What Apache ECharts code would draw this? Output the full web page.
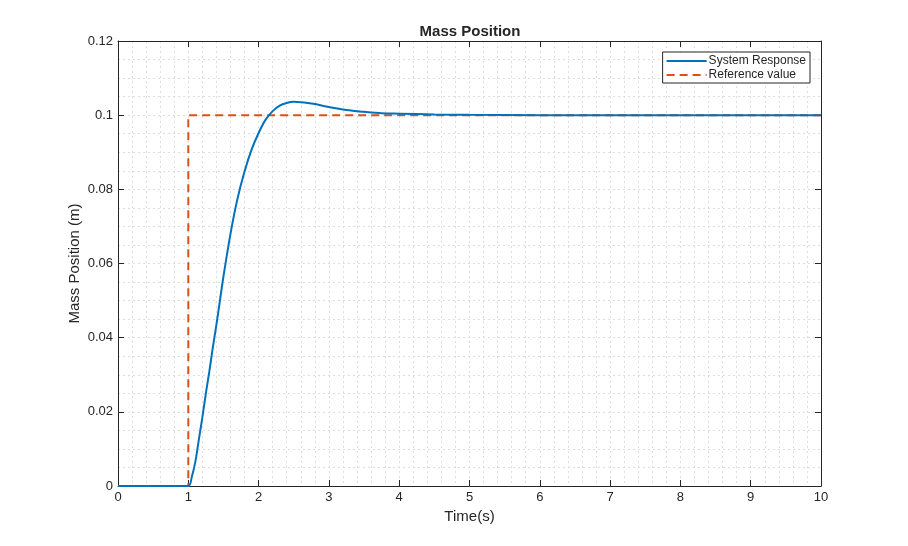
<!DOCTYPE html>
<html lang="en">
<head>
    <meta charset="UTF-8">
    <title>Mass Position</title>
    <style>
        html, body {margin: 0; padding: 0; background: #fff;}
        #chart {width: 908px; height: 546px;}
    </style>
</head>
<body>
<div id="chart"></div>
<script src="https://cdn.jsdelivr.net/npm/echarts@6/dist/echarts.min.js"></script>
<script type="text/javascript">
    // response: time (s) and position (m)
    var respTime = [0, 1, 1.05, 1.1, 1.15, 1.2, 1.25, 1.3, 1.35, 1.4, 1.45, 1.5, 1.6, 1.7, 1.8, 1.9,
        2.0, 2.1, 2.2, 2.3, 2.4, 2.5, 2.6, 2.7, 2.8, 3.0, 3.25, 3.5, 3.75, 4.0, 4.5, 5, 6, 7, 8, 10];
    var respValue = [0, 0, 0.0025, 0.0065, 0.0125, 0.0185, 0.025, 0.031, 0.0375, 0.0435, 0.050, 0.0565,
        0.068, 0.0775, 0.0848, 0.0907, 0.0952, 0.0988, 0.1011, 0.1026, 0.1033, 0.1036, 0.1035, 0.1033,
        0.1030, 0.1022, 0.1014, 0.1009, 0.1005, 0.1004, 0.1002, 0.1001, 0.1, 0.1, 0.1, 0.1];
    // reference step
    var refTime = [0, 1, 1, 10];
    var refValue = [0, 0, 0.1, 0.1];

    var xTicks = [0, 10, 1];
    var yTicks = [0, 0.12, 0.02];

    function pairs(xs, ys) {
        var out = [];
        for (var i = 0; i < xs.length; i++) out.push([xs[i], ys[i]]);
        return out;
    }

    var txt = '#262626';
    var font = 'Liberation Sans';
    var gridLine = {show: true, lineStyle: {color: '#dedede', type: [2, 3], width: 1}};

    function xAx(pos, main) {
        return {
            type: 'value', position: pos, min: xTicks[0], max: xTicks[1], interval: xTicks[2],
            name: main ? 'Time(s)' : '', nameLocation: 'middle', nameGap: 23, nameMoveOverlap: false,
            nameTextStyle: {color: txt, fontSize: 15, fontFamily: font},
            axisLine: {show: true, onZero: false, lineStyle: {color: txt, width: 1}},
            axisTick: {show: true, inside: true, length: 6, lineStyle: {color: txt}},
            axisLabel: {show: main, color: txt, fontSize: 13, fontFamily: font, margin: 5},
            minorTick: {show: false, splitNumber: 5},
            splitLine: main ? gridLine : {show: false},
            minorSplitLine: main ? gridLine : {show: false}
        };
    }

    function yAx(pos, main) {
        return {
            type: 'value', position: pos, min: yTicks[0], max: yTicks[1], interval: yTicks[2],
            name: main ? 'Mass Position (m)' : '', nameLocation: 'middle', nameGap: 36, nameMoveOverlap: false,
            nameTextStyle: {color: txt, fontSize: 15, fontFamily: font},
            axisLine: {show: true, onZero: false, lineStyle: {color: txt, width: 1}},
            axisTick: {show: true, inside: true, length: 6, lineStyle: {color: txt}},
            axisLabel: {show: main, color: txt, fontSize: 13, fontFamily: font, margin: 5},
            minorTick: {show: false, splitNumber: 4},
            splitLine: main ? gridLine : {show: false},
            minorSplitLine: main ? gridLine : {show: false}
        };
    }

    var myChart = echarts.init(document.getElementById('chart'));
    myChart.setOption({
        animation: false,
        title: {
            text: 'Mass Position', left: 465, top: 19, textAlign: 'center',
            textStyle: {color: txt, fontSize: 15, fontWeight: 'bold', fontFamily: font}
        },
        legend: {
            orient: 'vertical', right: 98, top: 52,
            backgroundColor: '#fff', borderColor: txt, borderWidth: 1, borderRadius: 0,
            padding: [2, 4, 1, 3], itemGap: 0, itemWidth: 40, itemHeight: 14,
            itemStyle: {opacity: 0},
            textStyle: {color: txt, fontSize: 12, fontFamily: font, lineHeight: 14, padding: [0, 0, 0, -3]},
            data: ['System Response', 'Reference value']
        },
        grid: {left: 118, right: 87, top: 41, bottom: 60, containLabel: false},
        xAxis: [xAx('bottom', true), xAx('top', false)],
        yAxis: [yAx('left', true), yAx('right', false)],
        series: [
            {
                name: 'Reference value', type: 'line', showSymbol: false, symbol: 'none',
                data: pairs(refTime, refValue), z: 2,
                lineStyle: {color: '#D95319', width: 2, type: [8, 5]},
                itemStyle: {color: '#D95319'}
            },
            {
                name: 'System Response', type: 'line', showSymbol: false, symbol: 'none',
                smooth: 0.3, data: pairs(respTime, respValue), z: 3,
                lineStyle: {color: '#0072BD', width: 2},
                itemStyle: {color: '#0072BD'}
            }
        ]
    });
</script>
</body>
</html>
